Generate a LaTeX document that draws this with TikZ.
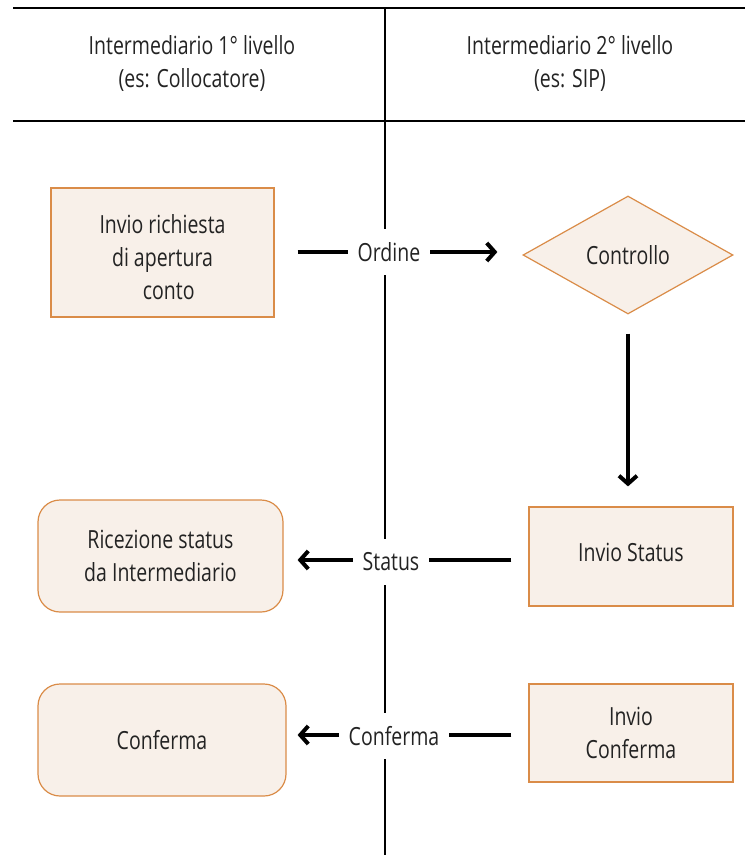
\documentclass[tikz,border=0pt]{standalone}
\usepackage{fontspec}
\setmainfont{Open Sans}[FakeStretch=0.78]
\usetikzlibrary{shapes.geometric,arrows.meta}
\definecolor{boxfill}{RGB}{248,240,233}
\definecolor{boxline}{RGB}{218,140,72}
\definecolor{txt}{RGB}{35,35,35}
\tikzset{
  x=1pt,y=-1pt,
  every node/.style={font=\fontsize{25}{33}\selectfont, text=txt, align=center},
  sqbox/.style={draw=boxline, fill=boxfill, line width=1.2pt, inner sep=0pt},
  rdbox/.style={sqbox, rounded corners=22pt},
  dia/.style={diamond, draw=boxline, fill=boxfill, line width=1.2pt, inner sep=0pt},
  arr/.style={line width=4.2pt, -{Straight Barb[length=8pt,width=18pt,line width=4pt]}},
  lbl/.style={fill=white, inner xsep=10pt, minimum height=46pt},
  rule/.style={line width=1.1pt, black}
}
\begin{document}
\begin{tikzpicture}
\useasboundingbox (0,0) rectangle (745,855);
% grid lines
\coordinate (tl) at (13,8);
\coordinate (tr) at (745,8);
\coordinate (ml) at (13,121);
\coordinate (mr) at (745,121);
\coordinate (vt) at (385,8);
\coordinate (vb) at (385,855);
\draw[rule] (tl) -- (tr);
\draw[rule] (ml) -- (mr);
\draw[rule] (vt) -- (vb);
% headers
\node (h1) at (192,63) {Intermediario 1° livello\\(es: Collocatore)};
\node (h2) at (570,63) {Intermediario 2° livello\\(es: SIP)};
% boxes
\node[sqbox, minimum width=223pt, minimum height=129pt] (req) at (162.5,252.5)
  {\raisebox{-7pt}[\height][\depth]{\begin{tabular}{@{}c@{}}Invio richiesta\\di apertura\\\hspace*{0.5em}conto\end{tabular}}};
\node[dia, minimum width=210pt, minimum height=118pt] (ctl) at (628,255) {Controllo};
\node[sqbox, minimum width=204pt, minimum height=99pt] (sts) at (631,556.5) {\raisebox{4pt}[\height][\depth]{Invio Status}};
\node[rdbox, minimum width=245pt, minimum height=112pt] (ric) at (160.5,556) {Ricezione status\\da Intermediario};
\node[sqbox, minimum width=204pt, minimum height=98pt] (ivc) at (631,733) {Invio\\Conferma};
\node[rdbox, minimum width=248pt, minimum height=112pt] (cnf) at (162,740) {Conferma};
% arrows
\coordinate (y1) at (0,252);
\coordinate (y2) at (0,560);
\coordinate (y3) at (0,735);
\draw[arr, shorten <=23pt, shorten >=25pt] (req.east |- y1) -- (ctl.west |- y1);
\node[lbl] (lo) at (389,252) {Ordine};
\draw[arr, shorten <=19pt, shorten >=20pt] (ctl.south) -- (ctl.south |- sts.north);
\draw[arr, shorten <=17pt, shorten >=14pt] (sts.west |- y2) -- (ric.east |- y2);
\node[lbl] (ls) at (391,562) {Status};
\draw[arr, shorten <=17pt, shorten >=11pt] (ivc.west |- y3) -- (cnf.east |- y3);
\node[lbl] (lc) at (394,736) {Conferma};
\end{tikzpicture}
\end{document}
